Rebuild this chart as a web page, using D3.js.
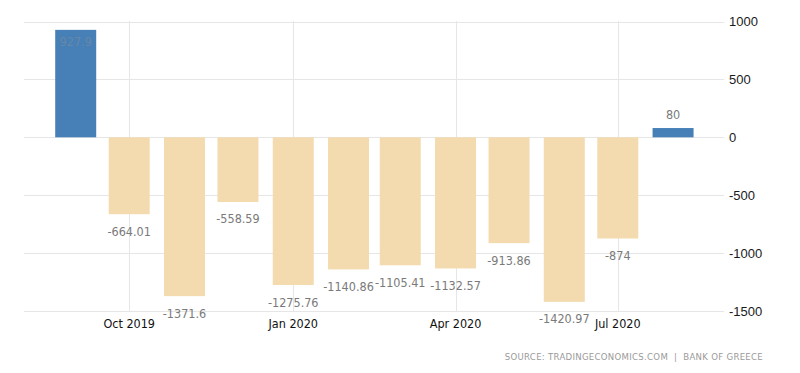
<!DOCTYPE html>
<html>
<head>
<meta charset="utf-8">
<script src="https://cdn.jsdelivr.net/npm/d3@7"></script>
<style>
  body { margin: 0; background: #fff; }
  svg { display: block; }
</style>
</head>
<body>
<div id="chart"></div>
<script>
/* global d3 */

const months = ['2019-09', '2019-10', '2019-11', '2019-12', '2020-01', '2020-02',
  '2020-03', '2020-04', '2020-05', '2020-06', '2020-07', '2020-08']
const values = [927.9, -664.01, -1371.6, -558.59, -1275.76, -1140.86,
  -1105.41, -1132.57, -913.86, -1420.97, -874, 80]
const yTicks = [1000, 500, 0, -500, -1000, -1500]
const xTickMonths = ['2019-10', '2020-01', '2020-04', '2020-07']
const sourceText = 'SOURCE: TRADINGECONOMICS.COM  |  BANK OF GREECE'

const W = 800
const H = 373
const parse = d3.timeParse('%Y-%m')

const svg = d3.select('#chart')
  .append('svg')
  .attr('width', W)
  .attr('height', H)

// time axis: bars sit centred on the first day of each month
const x = d3.scaleTime()
  .domain([new Date(2019, 7, 3), new Date(2020, 7, 29)])
  .range([24, 723])

const y = d3.scaleLinear()
  .domain([-1500, 1000])
  .range([311, 21.5])

const barW = 41

// horizontal grid + right labels
svg.append('g')
  .selectAll('line')
  .data(yTicks)
  .join('line')
  .attr('x1', 24)
  .attr('x2', 724)
  .attr('y1', (d) => Math.round(y(d)) + 0.5)
  .attr('y2', (d) => Math.round(y(d)) + 0.5)
  .style('stroke', '#e6e6e6')

svg.append('g')
  .selectAll('text')
  .data(yTicks)
  .join('text')
  .attr('x', 729)
  .attr('y', (d) => y(d))
  .attr('dy', '0.36em')
  .style('font-family', '"Liberation Sans", Arial, sans-serif')
  .style('font-size', '13px')
  .style('fill', '#1a1a1a')
  .text((d) => d)

// vertical grid at quarter ticks
svg.append('g')
  .selectAll('line')
  .data(xTickMonths)
  .join('line')
  .attr('x1', (d) => Math.round(x(parse(d))) + 0.5)
  .attr('x2', (d) => Math.round(x(parse(d))) + 0.5)
  .attr('y1', 21)
  .attr('y2', 311)
  .style('stroke', '#e6e6e6')

svg.append('g')
  .selectAll('text')
  .data(xTickMonths)
  .join('text')
  .attr('x', (d) => x(parse(d)))
  .attr('y', 328)
  .attr('text-anchor', 'middle')
  .style('font-family', '"DejaVu Sans Condensed", "DejaVu Sans", sans-serif')
  .style('font-size', '12.5px')
  .style('fill', '#111')
  .text((d) => d3.timeFormat('%b %Y')(parse(d)))

// bars
svg.append('g')
  .selectAll('rect')
  .data(values)
  .join('rect')
  .attr('x', (d, i) => x(parse(months[i])) - barW / 2)
  .attr('width', barW)
  .attr('y', (d) => Math.min(y(d), y(0)))
  .attr('height', (d) => Math.abs(y(d) - y(0)))
  .style('fill', (d) => d >= 0 ? '#4680b6' : '#f4dbaf')

// value labels (the big one gets pushed inside the bar)
const inside = (d) => d >= 0 && y(d) - 9 < y(1000) + 24
svg.append('g')
  .selectAll('text')
  .data(values)
  .join('text')
  .attr('x', (d, i) => x(parse(months[i])))
  .attr('y', (d) => d >= 0 ? Math.max(y(d) - 9, y(1000) + 24) : y(d) + 21.5)
  .attr('text-anchor', 'middle')
  .style('font-family', '"DejaVu Sans Condensed", "DejaVu Sans", sans-serif')
  .style('font-size', '12.5px')
  .style('fill', (d) => inside(d) ? '#6787a8' : '#7a7a7a')
  .text((d) => d)

// source note
svg.append('text')
  .attr('x', 763)
  .attr('y', 360)
  .attr('text-anchor', 'end')
  .style('font-family', '"DejaVu Sans Condensed", "DejaVu Sans", sans-serif')
  .style('font-size', '9.5px')
  .style('letter-spacing', '0.3px')
  .style('white-space', 'pre')
  .style('fill', '#9a9a9a')
  .text(sourceText)
</script>
</body>
</html>
